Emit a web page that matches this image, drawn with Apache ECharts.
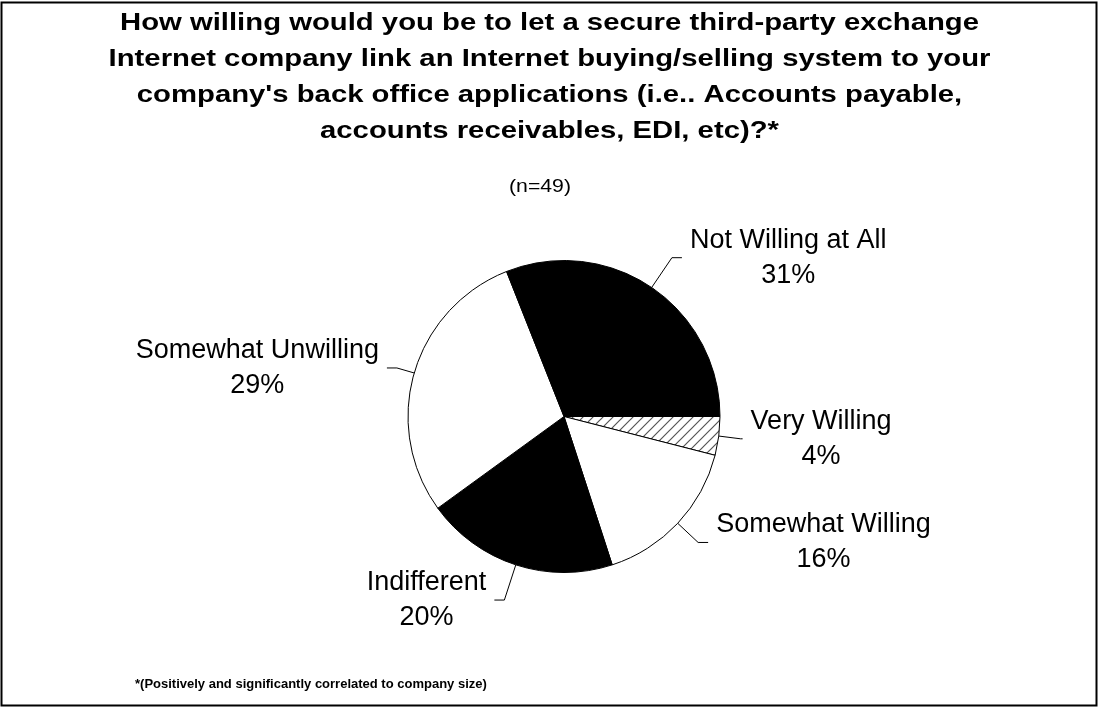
<!DOCTYPE html>
<html>
<head>
<meta charset="utf-8">
<title>Willingness to link exchange systems to back office applications</title>
<script src="https://cdn.jsdelivr.net/npm/echarts@6/dist/echarts.min.js"></script>
<style>
  html, body { margin: 0; padding: 0; background: #fff; }
  #chart { width: 1099px; height: 707px; }
</style>
</head>
<body>
<div id="chart"></div>
<script>
// Survey answers, clockwise from 3 o'clock
var categories = ['Very Willing', 'Somewhat Willing', 'Indifferent', 'Somewhat Unwilling', 'Not Willing at All'];
var shares = [4, 16, 20, 29, 31];

var titleLines = [
  'How willing would you be to let a secure third-party exchange',
  'Internet company link an Internet buying/selling system to your',
  "company's back office applications (i.e.. Accounts payable,",
  'accounts receivables, EDI, etc)?*'
];
var sampleText = '(n=49)';
var footnoteText = '*(Positively and significantly correlated to company size)';

var FONT = 'Arial, "Liberation Sans", sans-serif';

// diagonal hatching for the smallest slice
function hatchPattern() {
  var c = document.createElement('canvas');
  c.width = 10; c.height = 10;
  var g = c.getContext('2d');
  g.fillStyle = '#fff';
  g.fillRect(0, 0, 10, 10);
  g.strokeStyle = '#555';
  g.lineWidth = 1.2;
  g.beginPath();
  g.moveTo(-1, 11); g.lineTo(11, -1);
  g.moveTo(-1, 1); g.lineTo(1, -1);
  g.moveTo(9, 11); g.lineTo(11, 9);
  g.stroke();
  return { image: c, repeat: 'repeat' };
}

var fills = [hatchPattern(), '#ffffff', '#000000', '#ffffff', '#000000'];
var leader = [[22, 2], [28, 10], [37, 10], [18, 10], [36, 10]];

var pieData = categories.map(function (name, i) {
  return {
    name: name,
    value: shares[i],
    itemStyle: { color: fills[i] },
    labelLine: { length: leader[i][0], length2: leader[i][1] }
  };
});

// title block (slightly widened type), sample size and footnote
var texts = titleLines.map(function (line, i) {
  return {
    type: 'text',
    x: 549.5,
    y: 23 + i * 36,
    scaleX: 1.22,
    silent: true,
    style: {
      text: line, align: 'center', verticalAlign: 'middle',
      font: 'bold 24px ' + FONT, fill: '#000'
    }
  };
});
texts.push({
  type: 'text', x: 540, y: 187, scaleX: 1.18, silent: true,
  style: { text: sampleText, align: 'center', verticalAlign: 'middle', font: '18px ' + FONT, fill: '#000' }
});
texts.push({
  type: 'text', x: 135, y: 684, silent: true,
  style: { text: footnoteText, align: 'left', verticalAlign: 'middle', font: 'bold 13px ' + FONT, fill: '#000' }
});
texts.push({
  type: 'rect',
  shape: { x: 1.5, y: 2.5, width: 1095, height: 703 },
  style: { fill: 'none', stroke: '#000', lineWidth: 2 },
  silent: true
});

var chart = echarts.init(document.getElementById('chart'), null, { renderer: 'canvas' });

chart.setOption({
  backgroundColor: '#ffffff',
  animation: false,
  graphic: texts,
  series: [
    {
      type: 'pie',
      center: [564, 416.5],
      radius: 156,
      startAngle: 0,
      clockwise: true,
      avoidLabelOverlap: false,
      minShowLabelAngle: 0,
      data: pieData,
      itemStyle: { borderColor: '#000', borderWidth: 1 },
      emphasis: { disabled: true },
      label: {
        show: true,
        position: 'outside',
        alignTo: 'none',
        distanceToLabelLine: 8,
        fontFamily: FONT,
        fontSize: 27,
        color: '#000',
        lineHeight: 35,
        formatter: function (p) {
          return '{t|' + p.name + '}\n{t|' + p.value + '%}';
        },
        rich: {
          t: { align: 'center', fontFamily: FONT, fontSize: 27, color: '#000', lineHeight: 35 }
        }
      },
      labelLine: {
        show: true,
        smooth: false,
        lineStyle: { color: '#000', width: 1 }
      }
    }
  ]
});
</script>
</body>
</html>
